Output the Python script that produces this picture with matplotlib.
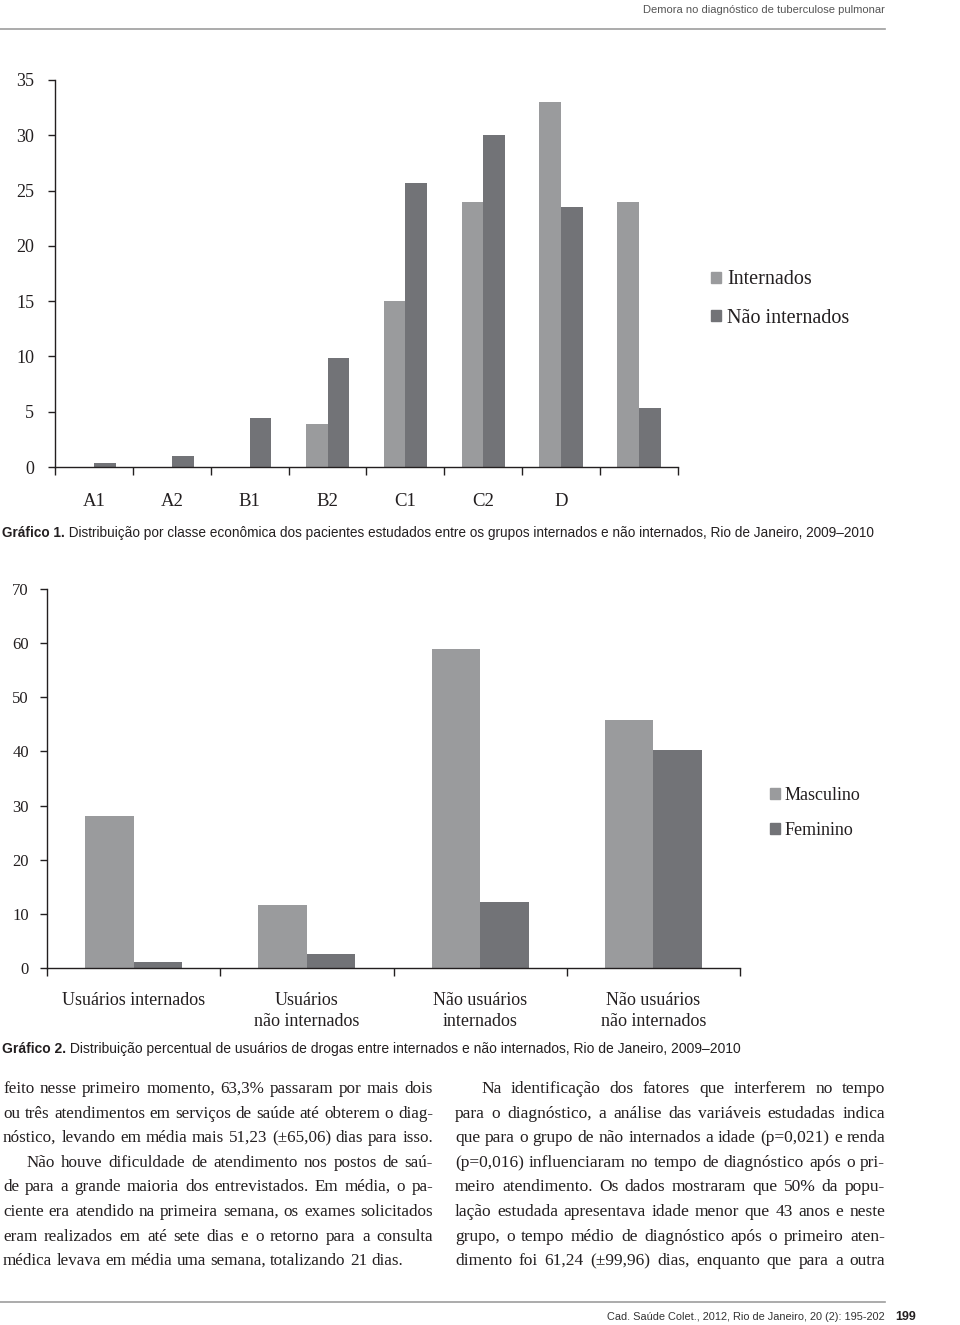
import matplotlib
matplotlib.use('Agg')
import matplotlib.pyplot as plt
import numpy as np
from matplotlib.patches import Patch
from matplotlib import font_manager

# Grafico 1 - classe economica
classes = ['A1', 'A2', 'B1', 'B2', 'C1', 'C2', 'D', '']
internados = [0, 0, 0, 3.9, 15.0, 24.0, 33.0, 24.0]
nao_internados = [0.35, 1.0, 4.4, 9.9, 25.7, 30.0, 23.5, 5.3]
serie1_nomes = ['Internados', 'Não internados']

# Grafico 2 - usuarios de drogas
grupos = ['Usuários internados', 'Usuários\nnão internados',
          'Não usuários\ninternados', 'Não usuários\nnão internados']
masculino = [28.0, 11.7, 59.0, 45.8]
feminino = [1.1, 2.5, 12.2, 40.3]
serie2_nomes = ['Masculino', 'Feminino']

cap1 = ('Gráfico 1.', ' Distribuição por classe econômica dos pacientes estudados entre os grupos '
        'internados e não internados, Rio de Janeiro, 2009–2010')
cap2 = ('Gráfico 2.', ' Distribuição percentual de usuários de drogas entre internados e não '
        'internados, Rio de Janeiro, 2009–2010')

col_esq = [
    ('feito nesse primeiro momento, 63,3% passaram por mais dois', 0, True),
    ('ou três atendimentos em serviços de saúde até obterem o diag-', 0, True),
    ('nóstico, levando em média mais 51,23 (±65,06) dias para isso.', 0, True),
    ('Não houve dificuldade de atendimento nos postos de saú-', 24, True),
    ('de para a grande maioria dos entrevistados. Em média, o pa-', 0, True),
    ('ciente era atendido na primeira semana, os exames solicitados', 0, True),
    ('eram realizados em até sete dias e o retorno para a consulta', 0, True),
    ('médica levava em média uma semana, totalizando 21 dias.', 0, False),
]
col_dir = [
    ('Na identificação dos fatores que interferem no tempo', 26, True),
    ('para o diagnóstico, a análise das variáveis estudadas indica', 0, True),
    ('que para o grupo de não internados a idade (p=0,021) e renda', 0, True),
    ('(p=0,016) influenciaram no tempo de diagnóstico após o pri-', 0, True),
    ('meiro atendimento. Os dados mostraram que 50% da popu-', 0, True),
    ('lação estudada apresentava idade menor que 43 anos e neste', 0, True),
    ('grupo, o tempo médio de diagnóstico após o primeiro aten-', 0, True),
    ('dimento foi 61,24 (±99,96) dias, enquanto que para a outra', 0, True),
]

LIGHT = '#9a9b9d'
DARK = '#727377'
INK = '#231f20'
SERIF = ['Liberation Serif', 'DejaVu Serif']
names = {f.name for f in font_manager.fontManager.ttflist}
SANS = ['Liberation Sans Narrow', 'Liberation Sans'] if 'Liberation Sans Narrow' in names else ['Liberation Sans']

W, H = 960, 1325
fig = plt.figure(figsize=(9.6, 13.25), dpi=100)
renderer = fig.canvas.get_renderer()


def fx(x):
    return x / W


def fy(y):
    return 1 - y / H


def width_of(t):
    return t.get_window_extent(renderer).width


def fit_line(parts, x0, y, target, size, family, color=INK, ha='left'):
    # parts = [(texto, peso)], ajusta o tamanho para caber na largura
    texts = [fig.text(0, fy(y), s, fontsize=size, family=family, fontweight=wt,
                      va='baseline', color=color) for s, wt in parts]
    total = sum(width_of(t) for t in texts)
    k = target / total
    for t in texts:
        t.set_fontsize(size * k)
    ws = [width_of(t) for t in texts]
    x = x0 if ha == 'left' else x0 - sum(ws)
    for t, w in zip(texts, ws):
        t.set_x(fx(x))
        x += w


def column(lines, x0, x1, y0, pitch, size):
    # escolhe o tamanho para a linha mais longa caber
    ratio = 0
    for s, ind, just in lines:
        t = fig.text(0, 0, s, fontsize=size, family=SERIF)
        ratio = max(ratio, width_of(t) / (x1 - x0 - ind))
        t.remove()
    if ratio > 0.99:
        size = size * 0.99 / ratio
    sp = size * 0.25 * 100 / 72
    for i, (s, ind, just) in enumerate(lines):
        y = round(y0 + i * pitch)
        words = s.split()
        texts = [fig.text(0, fy(y), w, fontsize=size, family=SERIF, va='baseline', color=INK)
                 for w in words]
        ws = [width_of(t) for t in texts]
        gap = (x1 - x0 - ind - sum(ws)) / (len(words) - 1) if just else sp
        x = x0 + ind
        for t, w in zip(texts, ws):
            t.set_x(fx(x))
            x += w + gap


def grouped(ax, cats, a, b, ymax, step, lpad, tsize, csize, ypad, lsp):
    n = len(cats)
    pos = np.arange(n) + 0.5
    w = 0.28
    ax.bar(pos - w / 2, a, w, color=LIGHT, linewidth=0)
    ax.bar(pos + w / 2, b, w, color=DARK, linewidth=0)
    ax.set_xlim(0, n)
    ax.set_ylim(0, ymax)
    ax.set_yticks(np.arange(0, ymax + 1, step))
    ax.set_xticks(pos)
    ax.set_xticklabels(cats, family=SERIF, fontsize=csize, color=INK, linespacing=lsp)
    ax.set_xticks(np.arange(0, n + 1), minor=True)
    ax.tick_params(axis='x', which='major', length=0, pad=lpad)
    ax.tick_params(axis='x', which='minor', length=6, width=1, color=INK, direction='out')
    ax.tick_params(axis='y', length=5, width=1, color=INK, pad=ypad, labelsize=tsize,
                   labelcolor=INK)
    for lab in ax.get_yticklabels():
        lab.set_family(SERIF)
    for s in ['top', 'right']:
        ax.spines[s].set_visible(False)
    for s in ['left', 'bottom']:
        ax.spines[s].set_color(INK)
        ax.spines[s].set_linewidth(1)


# cabecalho
fit_line([('Demora no diagnóstico de tuberculose pulmonar', 'normal')], 885, 13, 238, 11,
         SANS, color='#555555', ha='right')
fig.add_artist(plt.Line2D([0, fx(885)], [fy(29), fy(29)], color='#9d9d9d', lw=1.2))

# grafico 1
ax1 = fig.add_axes([fx(55), fy(467), 623 / W, 387 / H])
grouped(ax1, classes, internados, nao_internados, 35, 5, 19, 13, 13.5, 10, 1.2)
ax1.legend([Patch(color=LIGHT), Patch(color=DARK)], serie1_nomes, loc='center left',
           bbox_to_anchor=(fx(711), fy(299)), bbox_transform=fig.transFigure, frameon=False,
           handlelength=0.5, handleheight=0.5, handletextpad=0.3, labelspacing=0.95,
           borderpad=0, borderaxespad=0, prop={'family': SERIF, 'size': 14.5},
           labelcolor=INK)
fit_line([(cap1[0], 'bold'), (cap1[1], 'normal')], 2, 537, 874, 10, SANS)

# grafico 2
ax2 = fig.add_axes([fx(47), fy(968), 693 / W, 379 / H])
grouped(ax2, grupos, masculino, feminino, 70, 10, 17, 12, 13, 8, 1.32)
ax2.legend([Patch(color=LIGHT), Patch(color=DARK)], serie2_nomes, loc='center left',
           bbox_to_anchor=(fx(770), fy(813)), bbox_transform=fig.transFigure, frameon=False,
           handlelength=0.55, handleheight=0.55, handletextpad=0.25, labelspacing=1.0,
           borderpad=0, borderaxespad=0, prop={'family': SERIF, 'size': 13},
           labelcolor=INK)
fit_line([(cap2[0], 'bold'), (cap2[1], 'normal')], 2, 1053, 740, 10, SANS)

# texto do artigo
column(col_esq, 3, 433, 1093, 24.6, 13)
column(col_dir, 455, 885, 1093, 24.6, 13)

# rodape
fig.add_artist(plt.Line2D([0, fx(885)], [fy(1302), fy(1302)], color='#9d9d9d', lw=1.2))
fit_line([('Cad. Saúde Colet., 2012, Rio de Janeiro, 20 (2): 195-202', 'normal')], 885, 1320,
         280, 10, SANS, color='#333333', ha='right')
fit_line([('199', 'bold')], 895, 1320, 21, 10, SANS)

fig.savefig('out.png', dpi=100)
